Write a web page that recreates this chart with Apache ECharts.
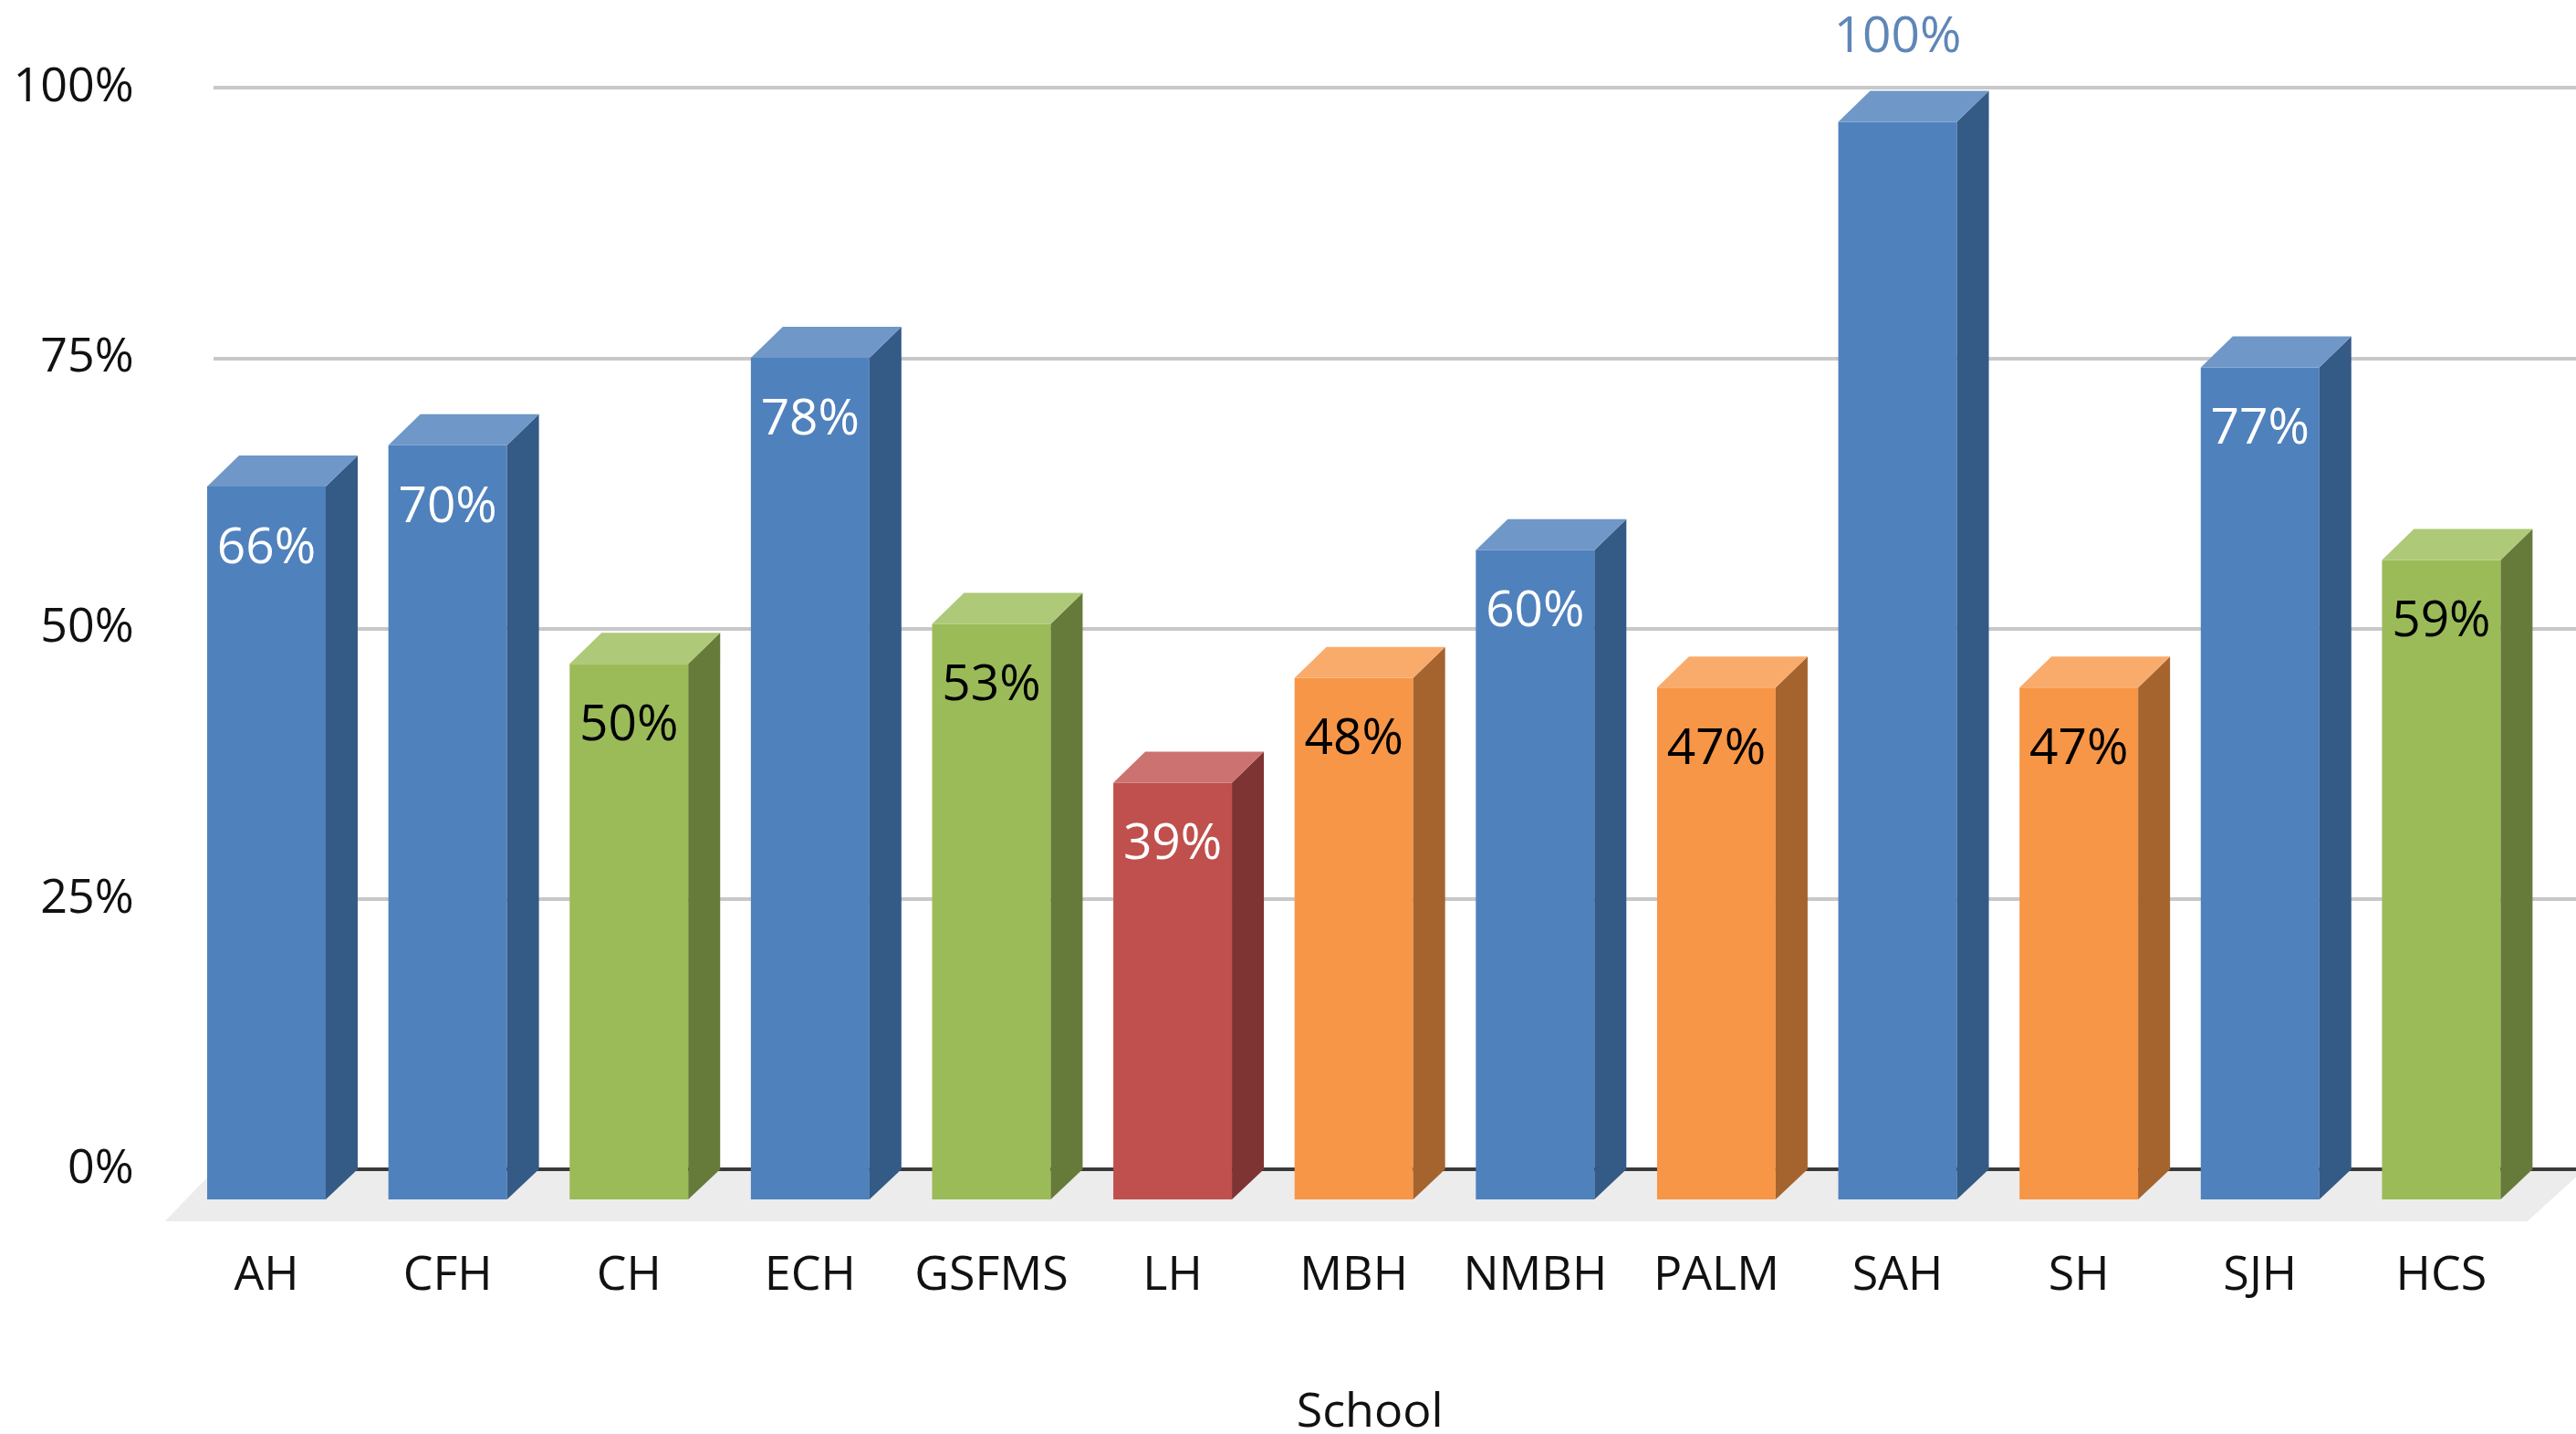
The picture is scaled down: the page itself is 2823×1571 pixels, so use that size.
<!DOCTYPE html>
<html>
<head>
<meta charset="utf-8">
<style>html,body{margin:0;padding:0;background:#fff}#c{width:2823px;height:1571px}</style>
<script src="https://cdn.jsdelivr.net/npm/echarts@6/dist/echarts.min.js"></script>
</head>
<body>
<div id="c"></div>
<script>
const categories = ['AH','CFH','CH','ECH','GSFMS','LH','MBH','NMBH','PALM','SAH','SH','SJH','HCS'];
const values = [66.0,69.8,49.6,77.9,53.3,38.6,48.3,60.1,47.4,99.7,47.4,77.0,59.2];
const bands = ['blue','blue','green','blue','green','red','orange','blue','orange','blue','orange','blue','green'];
const yTicks = [0,25,50,75,100];

const palette = {
  blue:   {front:'#4f81bd', side:'#345a86', top:'#6f97c8', text:'#ffffff'},
  green:  {front:'#9bbb59', side:'#667b3a', top:'#aec978', text:'#000000'},
  red:    {front:'#c0504d', side:'#7e3432', top:'#cc7371', text:'#ffffff'},
  orange: {front:'#f79646', side:'#a5642e', top:'#f9ab6b', text:'#000000'}
};
const FONT = '"Open Sans"';
const DEPTH = 35, RISE = 34, DROP = 33;

const chart = echarts.init(document.getElementById('c'), null, {renderer:'canvas'});

function renderFloor(params, api) {
  const cs = params.coordSys;
  const back = cs.y + cs.height + 2, front = cs.y + cs.height + 57;
  return {
    type:'polygon',
    shape:{points:[[cs.x - 12, front],[cs.x + 41, back],[2830, back],[cs.x + cs.width - 5, front]]},
    style:{fill:'#ececec'}
  };
}

function renderBar(params, api) {
  const i = api.value(0), v = api.value(1);
  const c = palette[bands[i]];
  const backTop = api.coord([i, v]);
  const base = api.coord([i, 0])[1];
  const w = api.size([1, 0])[0] * 0.6544;
  const l = backTop[0] - w / 2, r = backTop[0] + w / 2;
  const yb = backTop[1], yf = yb + RISE;
  const above = v > 95;
  return {
    type:'group',
    children:[
      {type:'rect', shape:{x:l, y:yf, width:w, height:base + DROP - yf}, style:{fill:c.front}},
      {type:'polygon', shape:{points:[[r,yf],[r+DEPTH,yb],[r+DEPTH,base],[r,base+DROP]]}, style:{fill:c.side}},
      {type:'polygon', shape:{points:[[l,yf],[l+DEPTH,yb],[r+DEPTH,yb],[r,yf]]}, style:{fill:c.top}},
      {type:'text', x:backTop[0], y: above ? yb - 58 : yf + 68, style:{
        text: Math.round(v) + '%',
        fill: above ? '#5f86b8' : c.text,
        font: '55px ' + FONT,
        align:'center', verticalAlign:'middle'
      }}
    ]
  };
}

chart.setOption({
  backgroundColor:'#ffffff',
  animation:false,
  grid:[
    {left:192.7, width:2582, top:96, height:1185, outerBoundsMode:'none'},
    {left:234, right:0, top:96, height:1185, outerBoundsMode:'none'}
  ],
  xAxis:[
    {type:'category', gridIndex:0, data:categories,
      axisLine:{show:false}, axisTick:{show:false}, splitLine:{show:false},
      axisLabel:{margin:91, interval:0, fontFamily:FONT, fontSize:52, color:'#111111'},
      name:'School', nameLocation:'middle', nameGap:241,
      nameTextStyle:{fontFamily:FONT, fontSize:52, color:'#111111', padding:[0,0,0,35]}},
    {type:'value', gridIndex:1, min:0, max:1,
      axisLine:{show:true, lineStyle:{color:'#3a3a3a', width:4}}, axisTick:{show:false},
      axisLabel:{show:false}, splitLine:{show:false}}
  ],
  yAxis:[
    {type:'value', gridIndex:0, min:0, max:100, interval:25,
      axisLine:{show:false}, axisTick:{show:false}, splitLine:{show:false},
      axisLabel:{margin:46, fontFamily:FONT, fontSize:52, color:'#111111',
        padding:[0,0,1,0],
        formatter: function(val){ return yTicks.indexOf(val) >= 0 ? val + '%' : ''; }}},
    {type:'value', gridIndex:1, min:0, max:100, interval:25,
      axisLine:{show:false}, axisTick:{show:false}, axisLabel:{show:false},
      splitLine:{show:true, lineStyle:{color:'#c8c8c8', width:4}}}
  ],
  series:[
    {type:'custom', name:'Floor', xAxisIndex:0, yAxisIndex:0, z:1, silent:true,
      data:[[0,0]], renderItem:renderFloor, encode:{x:0, y:1}},
    {type:'custom', name:'School', xAxisIndex:0, yAxisIndex:0, z:3,
      data:values.map(function(v,i){ return [i,v]; }), renderItem:renderBar, encode:{x:0, y:1}}
  ]
});
</script>
</body>
</html>
